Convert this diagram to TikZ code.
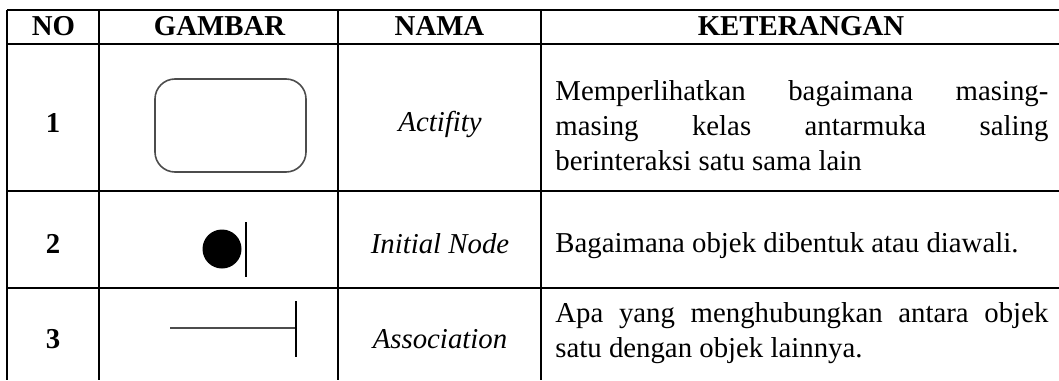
\documentclass[tikz,border=0pt]{standalone}
\usepackage{fontspec}
\setmainfont{Liberation Serif}
\tolerance=10000
\hbadness=10000

\begin{document}
\begin{tikzpicture}[x=0.5pt, y=-0.5pt,
    grid/.style={line width=0.7pt},
    head/.style={anchor=base, font=\fontsize{14.4}{17.5}\selectfont\bfseries},
    nama/.style={anchor=base, font=\fontsize{14.4}{17.5}\selectfont\itshape},
    ket/.style={anchor=base west, inner sep=0pt, text width=246.5pt,
        align=justify, font=\fontsize{14.4}{17.5}\selectfont}]
    \useasboundingbox (0,0) rectangle (1059,380);

    % Table grid
    \foreach \y in {10,44,191,288}
        \draw[grid] (7,\y) -- (1059,\y);
    \foreach \x in {7,99,338,541}
        \draw[grid] (\x,10) -- (\x,380);

    % Header row
    \node[head] (no) at (53.5,35) {NO};
    \node[head] (gambar) at (219.5,35) {GAMBAR};
    \node[head] (nama) at (439.5,35) {NAMA};
    \node[head] (keterangan) at (801,35) {KETERANGAN};

    % Row 1: activity
    \node[head] (no-1) at (53,132) {1};
    \draw[line width=0.8pt, black!70, rounded corners=10pt] (155,79) rectangle (306,172);
    \node[nama] (nama-1) at (440,131) {Actifity};
    \node[ket] (ket-1) at (555,100) {Memperlihatkan bagaimana masing-\linebreak
        masing kelas antarmuka saling\linebreak berinteraksi satu sama lain};

    % Row 2: initial node
    \node[head] (no-2) at (53,253) {2};
    \fill (222,249) circle (19.5);
    \draw[line width=0.75pt] (246,222) -- (246,277);
    \node[nama] (nama-2) at (440,253) {Initial Node};
    \node[ket] (ket-2) at (555,252) {Bagaimana objek dibentuk atau diawali.};

    % Row 3: association
    \node[head] (no-3) at (53,348) {3};
    \draw[line width=1.2pt, black!70] (170,328) -- (296,328);
    \draw[line width=0.75pt] (296,301) -- (296,357);
    \node[nama] (nama-3) at (440,348) {Association};
    \node[ket] (ket-3) at (555,322) {Apa yang menghubungkan antara objek\linebreak
        satu dengan objek lainnya.};
\end{tikzpicture}
\end{document}
